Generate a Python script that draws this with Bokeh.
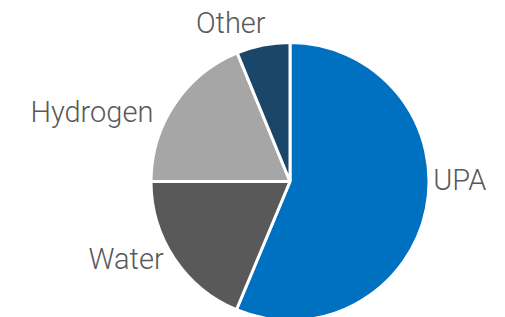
import math
from bokeh.plotting import figure
from bokeh.models import Range1d, ColumnDataSource
from bokeh.core.properties import value
from bokeh.embed import file_html
from bokeh.resources import INLINE

# ---- data ----
categories = ["UPA", "Water", "Hydrogen", "Other"]
shares = [56.3, 18.7, 18.8, 6.2]
colors = ["#0070C0", "#595959", "#A6A6A6", "#1A466A"]

# ---- layout (screen pixels, top-down) ----
W, H = 505, 317
CX, CY, R = 289.5, 181.0, 139.0
LABEL_R = R + 8
TEXT_SHIFT = -9
label_align = ["left", "right", "right", "center"]
label_nudge = [(-0.9, -21.1), (-4, 4.7), (-14.5, 21.7), (-30.8, -4.8)]

total = sum(shares)
starts, ends, lx, ly = [], [], [], []
acc = 0.0
for i, s in enumerate(shares):
    a0 = acc / total * 2 * math.pi
    acc += s
    a1 = acc / total * 2 * math.pi
    starts.append(math.pi / 2 - a0)
    ends.append(math.pi / 2 - a1)
    mid = (a0 + a1) / 2
    bx = CX + LABEL_R * math.sin(mid) + label_nudge[i][0]
    by = CY - LABEL_R * math.cos(mid) + label_nudge[i][1] + TEXT_SHIFT
    lx.append(bx)
    ly.append(H - by)

src = ColumnDataSource(dict(cat=categories, start=starts, end=ends, color=colors,
                            x=[CX] * len(shares), y=[H - CY] * len(shares)))

p = figure(width=W, height=H, output_backend="svg", toolbar_location=None,
           x_range=Range1d(0, W), y_range=Range1d(0, H),
           x_axis_location=None, y_axis_location=None, min_border=0)
p.grid.visible = False
p.outline_line_color = None
p.background_fill_color = "white"
p.border_fill_color = "white"

p.wedge(x="x", y="y", radius=R, radius_units="screen", start_angle="start", end_angle="end",
        direction="clock", fill_color="color", line_color="white", line_width=3, source=src)

for i, c in enumerate(categories):
    p.text(x=[lx[i]], y=[ly[i]], text=[c], text_font=value("Roboto Light"), text_font_size="29px",
           text_color="#595959", text_align=label_align[i], text_baseline="alphabetic")

open("out.html", "w").write(file_html(p, INLINE))
